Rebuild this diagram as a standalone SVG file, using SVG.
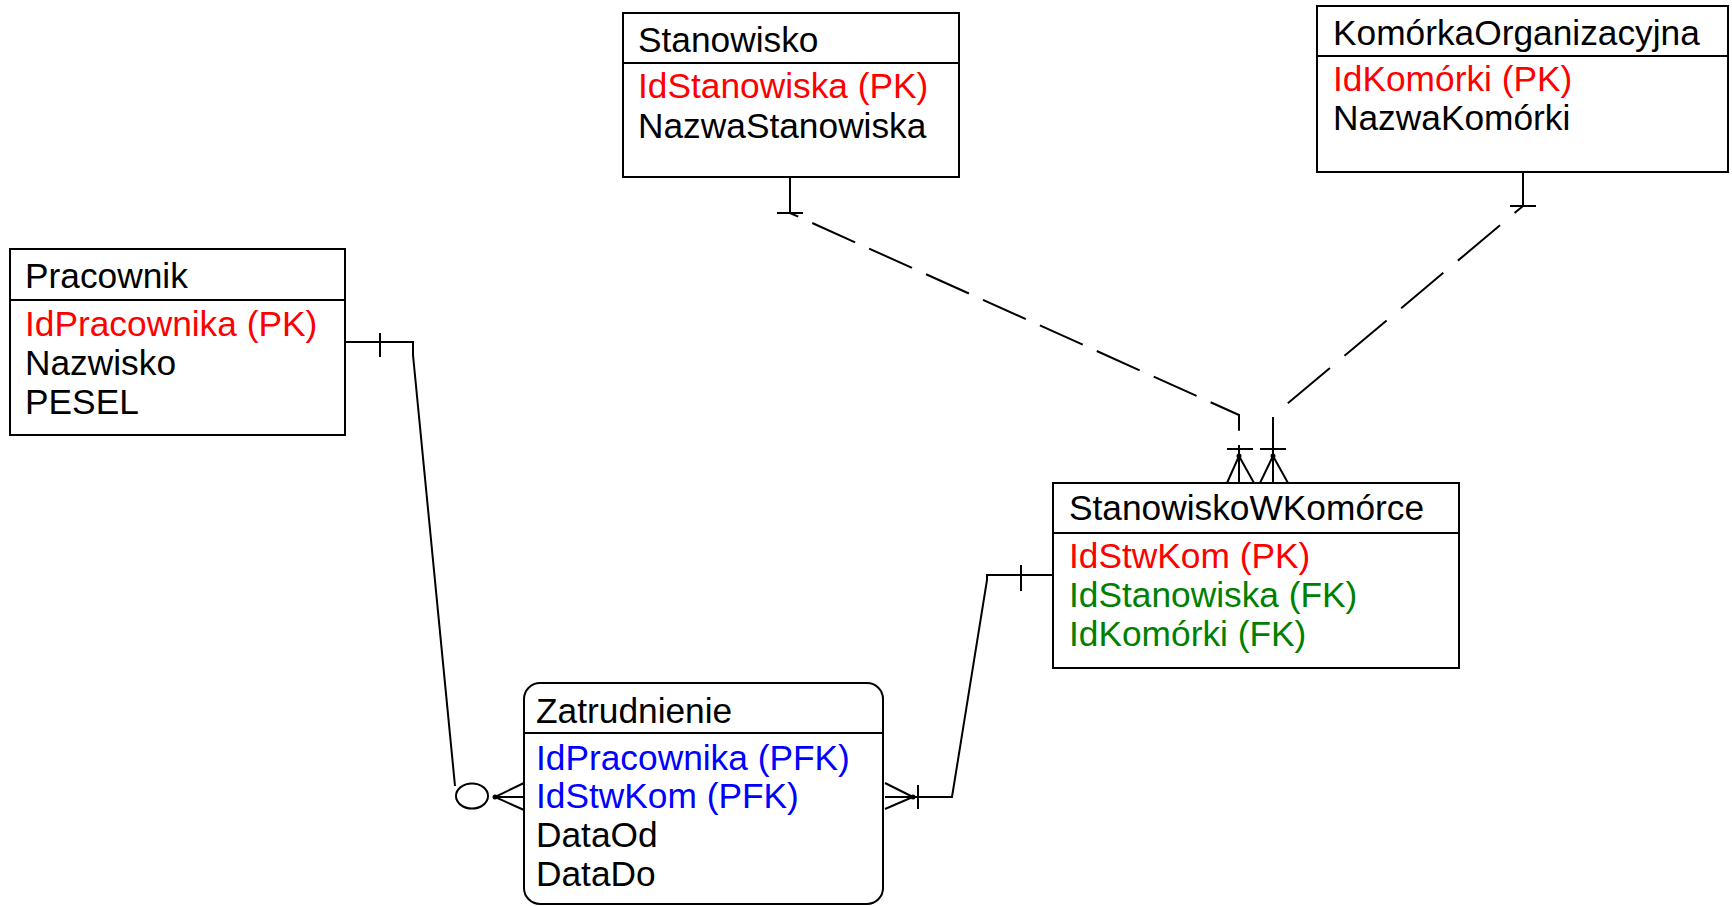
<svg xmlns="http://www.w3.org/2000/svg" width="1732" height="906" viewBox="0 0 1732 906">
<style>
.box{fill:#fff;stroke:#000;stroke-width:2}
.div{stroke:#000;stroke-width:2}
text{font-family:"Liberation Sans",Arial,sans-serif;font-size:35.3px;fill:#000}
.pk{fill:#ff0000}
.fk{fill:#008000}
.pfk{fill:#0000ff}
.ln{fill:none;stroke:#000;stroke-width:2}
.dA{stroke-dasharray:47 15.4;stroke-dashoffset:38}
.dB{stroke-dasharray:55 19;stroke-dashoffset:44}
</style>
<rect width="1732" height="906" fill="#fff"/>

<g id="connectors">
  <!-- Pracownik - Zatrudnienie -->
  <polyline class="ln" points="345,342 413,342 413,355 455,786"/>
  <line class="ln" x1="380" y1="333" x2="380" y2="357"/>
  <ellipse class="ln" cx="472" cy="796" rx="16" ry="12.5"/>
  <polyline class="ln" points="524,783 495,797 524,810"/>
  <line class="ln" x1="495" y1="797" x2="524" y2="797"/>
  <circle cx="495" cy="797" r="2.5" fill="#000"/>

  <!-- Zatrudnienie - StanowiskoWKomorce -->
  <polyline class="ln" points="885,783 913,797 885,809"/>
  <polyline class="ln" points="885,797 952,797 987,580 987,575 1053,575"/>
  <circle cx="913" cy="797" r="2.5" fill="#000"/>
  <line class="ln" x1="918" y1="785" x2="918" y2="809"/>
  <line class="ln" x1="1021" y1="565" x2="1021" y2="591"/>

  <!-- Stanowisko - StanowiskoWKomorce -->
  <line class="ln" x1="790" y1="177" x2="790" y2="213"/>
  <line class="ln" x1="777" y1="213" x2="803" y2="213"/>
  <polyline class="ln dA" points="790,213 1239,415 1239,432"/>
  <line class="ln" x1="1239" y1="445" x2="1239" y2="483"/>
  <line class="ln" x1="1227" y1="449" x2="1253" y2="449"/>
  <polyline class="ln" points="1227,483 1239,456 1254,483"/>
  <circle cx="1239" cy="456" r="2.5" fill="#000"/>

  <!-- KomorkaOrganizacyjna - StanowiskoWKomorce -->
  <line class="ln" x1="1523" y1="172" x2="1523" y2="206"/>
  <line class="ln" x1="1510" y1="206" x2="1536" y2="206"/>
  <line class="ln dB" x1="1523" y1="206" x2="1287" y2="404"/>
  <line class="ln" x1="1273" y1="417" x2="1273" y2="483"/>
  <line class="ln" x1="1260" y1="449" x2="1286" y2="449"/>
  <polyline class="ln" points="1260,483 1273,456 1288,483"/>
  <circle cx="1273" cy="456" r="2.5" fill="#000"/>
</g>

<g id="Pracownik">
  <rect class="box" x="10" y="249" width="335" height="186"/>
  <line class="div" x1="10" y1="300" x2="345" y2="300"/>
  <text x="25" y="288">Pracownik</text>
  <text x="25" y="336" class="pk">IdPracownika (PK)</text>
  <text x="25" y="375">Nazwisko</text>
  <text x="25" y="414">PESEL</text>
</g>

<g id="Stanowisko">
  <rect class="box" x="623" y="13" width="336" height="164"/>
  <line class="div" x1="623" y1="63" x2="959" y2="63"/>
  <text x="638" y="52">Stanowisko</text>
  <text x="638" y="98" class="pk">IdStanowiska (PK)</text>
  <text x="638" y="138">NazwaStanowiska</text>
</g>

<g id="KomorkaOrganizacyjna">
  <rect class="box" x="1317" y="6" width="411" height="166"/>
  <line class="div" x1="1317" y1="56" x2="1728" y2="56"/>
  <text x="1333" y="45">KomórkaOrganizacyjna</text>
  <text x="1333" y="91" class="pk">IdKomórki (PK)</text>
  <text x="1333" y="130">NazwaKomórki</text>
</g>

<g id="StanowiskoWKomorce">
  <rect class="box" x="1053" y="483" width="406" height="185"/>
  <line class="div" x1="1053" y1="533" x2="1459" y2="533"/>
  <text x="1069" y="520">StanowiskoWKomórce</text>
  <text x="1069" y="568" class="pk">IdStwKom (PK)</text>
  <text x="1069" y="607" class="fk">IdStanowiska (FK)</text>
  <text x="1069" y="646" class="fk">IdKomórki (FK)</text>
</g>

<g id="Zatrudnienie">
  <rect class="box" x="524" y="683" width="359" height="221" rx="16" ry="16"/>
  <line class="div" x1="524" y1="733" x2="883" y2="733"/>
  <text x="536" y="723">Zatrudnienie</text>
  <text x="536" y="770" class="pfk">IdPracownika (PFK)</text>
  <text x="536" y="808" class="pfk">IdStwKom (PFK)</text>
  <text x="536" y="847">DataOd</text>
  <text x="536" y="886">DataDo</text>
</g>
</svg>
